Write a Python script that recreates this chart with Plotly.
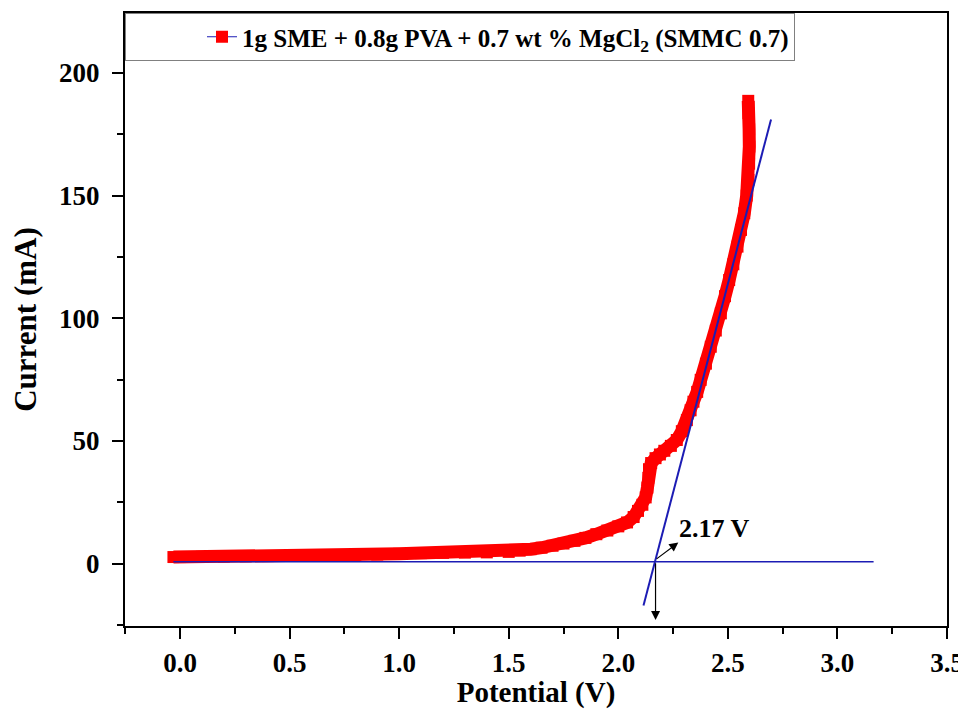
import plotly.graph_objects as go

potential_v = [-0.03, 0.0, 0.1, 0.2, 0.3, 0.4, 0.5, 0.6, 0.7, 0.8, 0.9, 1.0, 1.1, 1.2, 1.3, 1.4,
               1.5, 1.55, 1.6, 1.65, 1.7, 1.75, 1.8, 1.85, 1.9, 1.95, 2.0, 2.04, 2.07, 2.09,
               2.11, 2.125, 2.133, 2.137, 2.14, 2.15, 2.17, 2.19, 2.21, 2.24, 2.267, 2.29,
               2.313, 2.33, 2.343, 2.36, 2.376, 2.40, 2.422, 2.445, 2.468, 2.487, 2.506,
               2.525, 2.544, 2.56, 2.575, 2.586, 2.594, 2.597, 2.598, 2.597, 2.594, 2.593]
current_ma = [2.7, 2.7, 2.8, 2.9, 3.0, 3.1, 3.2, 3.3, 3.4, 3.5, 3.7, 4.0, 4.3, 4.4, 4.5, 4.6,
              4.8, 5.3, 5.9, 6.5, 7.3, 8.2, 9.3, 10.5, 12.0, 13.5, 15.2, 16.8, 19.0, 21.5,
              24.0, 27.0, 31.0, 35.0, 38.5, 41.0, 43.0, 44.5, 46.0, 48.0, 50.4, 54.0,
              58.5, 62.5, 66.0, 70.0, 74.9, 81.5, 88.4, 95.0, 102.0, 109.0, 115.6,
              122.0, 129.2, 136.0, 142.8, 150.0, 156.4, 163.0, 170.0, 177.0, 183.6, 188.6]

# Tangent lines
baseline_x = [-0.03, 3.165]
baseline_y = [0.8, 0.8]
tangent_x = [2.115, 2.697]
tangent_y = [-17.0, 181.0]

onset_v = 2.17
onset_label = "2.17 V"

legend_name = "<b>1g SME + 0.8g PVA + 0.7 wt % MgCl<sub>2</sub> (SMMC 0.7)</b>"

x_ticks = [0.0, 0.5, 1.0, 1.5, 2.0, 2.5, 3.0, 3.5]
x_tick_text = ["0.0", "0.5", "1.0", "1.5", "2.0", "2.5", "3.0", "3.5"]
y_ticks = [0, 50, 100, 150, 200]

RED = "#ff0000"
BLUE = "#1c1cb4"
FONT = "Liberation Serif"

fig = go.Figure()

fig.add_trace(go.Scatter(
    x=potential_v, y=current_ma, mode="lines+markers", name=legend_name,
    line=dict(color=BLUE, width=1),
    marker=dict(symbol="square", size=12, color=RED),
))
fig.add_trace(go.Scatter(
    x=potential_v, y=current_ma, mode="lines", showlegend=False,
    line=dict(color=RED, width=13), hoverinfo="skip",
))
fig.add_trace(go.Scatter(
    x=baseline_x, y=baseline_y, mode="lines", showlegend=False,
    line=dict(color=BLUE, width=1.5),
))
fig.add_trace(go.Scatter(
    x=tangent_x, y=tangent_y, mode="lines", showlegend=False,
    line=dict(color=BLUE, width=2),
))

# arrow down to the axis
fig.add_annotation(x=onset_v, y=-23, ax=onset_v, ay=0.8, xref="x", yref="y",
                   axref="x", ayref="y", text="", showarrow=True,
                   arrowhead=2, arrowsize=1.5, arrowwidth=1.2, arrowcolor="black")
# arrow towards label
fig.add_annotation(x=2.274, y=8.6, ax=2.168, ay=1.5, xref="x", yref="y",
                   axref="x", ayref="y", text="", showarrow=True,
                   arrowhead=2, arrowsize=1.5, arrowwidth=1.2, arrowcolor="black")
fig.add_annotation(x=2.437, y=14.5, xref="x", yref="y", text="<b>" + onset_label + "</b>",
                   showarrow=False, font=dict(family=FONT, size=26, color="black"))

axis_common = dict(
    showline=True, linecolor="black", linewidth=2, mirror=True,
    ticks="outside", ticklen=11, tickwidth=2, tickcolor="black",
    showgrid=False, zeroline=False, automargin=False,
    tickfont=dict(family=FONT, size=27, color="black", weight="bold"),
)

fig.update_xaxes(
    range=[-0.251, 3.5], tickvals=x_ticks, ticktext=x_tick_text,
    minor=dict(dtick=0.25, tick0=0, ticks="outside", ticklen=6, tickwidth=2, tickcolor="black"),
    title=dict(text="<b>Potential (V)</b>", font=dict(family=FONT, size=29, color="black"), standoff=13),
    ticklabelstandoff=1,
    **axis_common,
)
fig.update_yaxes(
    range=[-25.4, 224.4], tickvals=y_ticks,
    minor=dict(dtick=25, tick0=0, ticks="outside", ticklen=6, tickwidth=2, tickcolor="black"),
    title=dict(text="<b>Current (mA)</b>", font=dict(family=FONT, size=31, color="black"), standoff=16),
    ticklabelstandoff=7,
    **axis_common,
)

# the page body adds an 8px offset, so the figure is sized to the remaining window
fig.update_layout(
    width=958, height=701,
    margin=dict(l=117, r=19, t=5, b=83),
    paper_bgcolor="white", plot_bgcolor="white",
    legend=dict(x=0, y=1, xanchor="left", yanchor="top",
                bordercolor="#808080", borderwidth=1, bgcolor="white",
                font=dict(family=FONT, size=25, color="black"),
                indentation=76),
    showlegend=True,
)

fig.write_html("out.html")
